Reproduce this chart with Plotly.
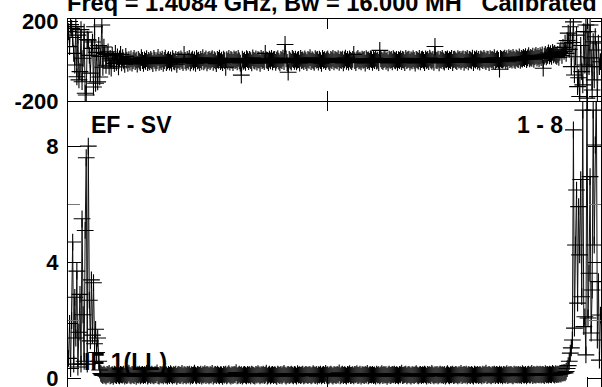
import plotly.graph_objects as go

N_CHAN = 512
channels = list(range(1, N_CHAN + 1))

# Amplitude per channel
amp_left = [0.7, 1.9, 0.35, 2.0, 4.7, 0.5, 2.8, 1.4, 3.7, 0.4, 1.6, 2.9, 0.5, 5.5, 2.2, 0.6,
            5.1, 7.6, 0.5, 8.0, 2.7, 1.3, 3.4, 1.5, 3.3, 1.2, 1.7, 0.9, 1.4, 0.6, 0.3, 0.18]
amp_mid = [
    .14,.11,.16,.12,.09,.15,.13,.18,.10,.12,.14,.08,.16,.13,.11,.17,.12,.10,.15,.13,
    .12,.16,.09,.14,.11,.13,.19,.12,.10,.15,.13,.11,.17,.08,.14,.12,.16,.10,.13,.15,
    .11,.14,.12,.18,.09,.13,.15,.11,.16,.12,.10,.14,.13,.20,.11,.09,.15,.12,.14,.10,
    .16,.12,.13,.09,.15,.11,.17,.13,.10,.14,.12,.16,.08,.13,.15,.11,.12,.18,.10,.14,
    .13,.10,.15,.12,.16,.09,.14,.11,.13,.19,.12,.10,.15,.13,.11,.16,.09,.14,.12,.17,
    .11,.15,.13,.10,.14,.12,.18,.09,.13,.15,.11,.16,.12,.10,.14,.13,.08,.15,.12,.16,
    .10,.13,.17,.12,.09,.14,.11,.15,.13,.21,.10,.12,.16,.11,.14,.09,.13,.15,.12,.10,
    .15,.12,.14,.10,.16,.13,.11,.09,.15,.12,.17,.13,.10,.14,.12,.16,.11,.13,.19,.09,
    .12,.16,.10,.13,.15,.11,.14,.12,.08,.16,.13,.11,.15,.10,.14,.18,.12,.09,.13,.15,
    .11,.13,.16,.12,.10,.15,.13,.09,.17,.12,.14,.11,.13,.16,.10,.12,.15,.13,.11,.14,
    .14,.10,.12,.17,.13,.11,.15,.09,.14,.12,.16,.10,.13,.15,.11,.18,.12,.14,.10,.13,
    .16,.12,.09,.14,.13,.11,.15,.12,.20,.10,.13,.16,.11,.14,.12,.09,.15,.13,.17,.11,
    .12,.14,.10,.15,.13,.17,.11,.12,.16,.09,.14,.13,.11,.15,.12,.18,.10,.13,.14,.12,
    .15,.11,.13,.09,.16,.12,.14,.10,.13,.17,.11,.15,.12,.14,.08,.13,.16,.11,.12,.15,
    .13,.16,.11,.14,.12,.10,.15,.13,.19,.11,.12,.14,.16,.10,.13,.15,.12,.09,.14,.13,
    .11,.14,.17,.12,.10,.13,.15,.11,.14,.12,.16,.13,.09,.15,.12,.14,.11,.18,.13,.10,
    .14,.12,.15,.10,.13,.16,.12,.14,.11,.15,.09,.13,.17,.12,.10,.14,.13,.16,.11,.12,
    .15,.13,.10,.14,.12,.18,.11,.13,.15,.12,.16,.10,.14,.13,.11,.15,.12,.09,.16,.13,
    .12,.15,.11,.14,.13,.10,.16,.12,.14,.19,.11,.13,.15,.12,.10,.14,.13,.16,.11,.15,
    .13,.11,.16,.12,.14,.10,.15,.13,.12,.17,.11,.14,.13,.15,.12,.10,.16,.13,.14,.12,
    .15,.12,.14,.11,.17,.13,.12,.15,.10,.14,.16,.12,.13,.18,.11,.15,.13,.12,.16,.14,
    .13,.16,.12,.15,.14,.11,.17,.13,.15,.12,.16,.14,.13,.18,.15,.12,.17,.14,.16,.15,
    .18,.16,.20,.19,.22]
amp_right = [0.2, 0.25, 0.35, 0.45, 0.6, 0.88, 1.06, 1.33, 8.56, 1.74, 4.6, 6.49, 2.6, 5.92,
             4.26, 6.85, 2.82, 9.24, 1.79, 2.13, 0.82, 10.5, 2.09, 3.63, 6.95, 1.57, 3.05,
             9.24, 4.6, 8.04, 10.2, 1.33, 3.34, 0.64, 2.19]
amplitude = amp_left + amp_mid + amp_right

# Phase (degrees) per channel
ph_left = [150, 74, 185, 166, 120, 40, -19, 175, -78, 132, -94, -52, 160, -103, 15, 147,
           -161, -170, 110, 107, 30, -60, 65, 97, -130, 174, -111, 45, -104, 80, -79, 25,
           183, -30, 72, 40, -20, 35]
ph_mid = [
    48,-25,15,-35,30,5,-12,40,-5,22,-28,12,35,-8,18,2,-15,25,6,-10,
    8,-4,12,-9,3,15,-2,6,-14,10,1,-6,18,4,-11,7,0,13,-7,5,
    -3,9,2,-12,14,5,-8,3,20,-5,7,-1,11,-10,4,16,-6,2,9,-4,
    6,-9,13,1,-3,10,-15,5,8,-2,12,3,-7,35,4,-5,9,1,15,-8,
    3,11,-4,7,-10,14,2,6,-6,9,0,18,-3,5,12,-8,4,10,-1,7,
    13,-5,8,2,-12,9,5,16,-2,6,-7,11,3,-30,8,1,14,-4,10,5,
    -6,12,4,9,-3,15,2,-9,-70,11,0,6,-5,13,8,-2,10,3,-8,17,
    5,1,12,-4,8,6,-10,14,3,9,-2,40,7,4,-6,11,2,15,-3,8,
    10,-5,6,13,1,-8,9,4,16,-1,85,12,-6,-55,10,2,-4,14,8,0,
    11,-3,6,9,-9,15,4,7,-2,12,3,-7,10,5,18,-1,8,2,-5,13,
    6,9,-4,11,3,-10,14,5,8,-2,7,12,1,-6,10,4,15,-3,9,6,
    2,13,-5,8,4,11,-8,7,16,0,9,-4,12,5,-1,10,35,3,-7,8,
    14,2,6,-3,11,5,9,-9,13,4,7,-1,12,8,-5,10,3,15,1,6,
    -6,55,12,4,-2,8,14,0,7,-8,11,5,9,-3,13,6,2,10,-5,8,
    4,12,-1,9,6,-7,15,3,8,11,-4,7,2,13,5,-9,10,6,1,14,
    -3,8,11,5,-6,12,4,9,-2,16,7,1,10,-5,75,6,3,11,-8,9,
    5,14,2,-4,10,7,12,-1,8,4,15,-6,9,11,3,-2,13,6,10,0,
    8,12,-5,9,5,14,-3,10,7,2,16,-7,11,6,13,1,9,-4,12,8,
    3,15,6,-2,11,9,-6,13,7,10,4,18,-1,8,12,5,-40,14,9,6,
    11,16,4,13,-2,18,9,14,6,20,10,3,17,12,8,22,5,15,11,19,
    13,24,9,17,28,12,20,15,26,10,22,30,16,25,14,28,19,32,-35,26,
    35,22,30,42,28,38,25,45,33,40,30]
ph_right = [25, 35, 20, 45, 57, 30, 70, 50, 91, 40, 105, 142, 60, 174, -27, 95, 199, -69,
            23, 132, -128, -83, -178, 80, -52, -119, 150, -19, 183, -186, 149, -27, 183,
            17, -145, 99, -94, 124, 57, -178, 92, -27, -2]
phase = ph_left + ph_mid + ph_right

amp_tickvals = [0, 4, 8]
amp_minor_tickvals = [2, 6]
phase_tickvals = [-200, 200]
phase_ticktext = ["-200", "200"]
chan_tickvals = [250, 500]

title_text = "Freq = 1.4084 GHz, Bw = 16.000 MH\u00a0\u00a0\u00a0Calibrated"
baseline_label = "EF - SV"
range_label = "1 - 8"
if_label = "IF 1(LL)"

W, H = 602, 387
FONT = "Liberation Sans, Arial, sans-serif"

def px_x(p):
    return p / W

def px_y(p):
    return 1 - p / H

line_style = dict(color="#111111", width=1)
marker_style = dict(symbol="cross-thin", size=12, line=dict(width=1.1, color="black"))

fig = go.Figure()
fig.add_trace(go.Scatter(x=channels, y=amplitude, xaxis="x", yaxis="y",
                         mode="lines+markers", line=line_style, marker=marker_style,
                         hoverinfo="skip"))
fig.add_trace(go.Scatter(x=channels, y=phase, xaxis="x2", yaxis="y2",
                         mode="lines+markers", line=line_style, marker=marker_style,
                         hoverinfo="skip"))

xdom = [px_x(68), px_x(601)]
bot_dom = [0, px_y(101)]
top_dom = [px_y(101), px_y(19)]
tickfont = dict(family=FONT, size=22, color="black", weight="bold")

fig.update_layout(
    width=W, height=H,
    margin=dict(l=0, r=0, t=0, b=0, pad=0, autoexpand=False),
    paper_bgcolor="white", plot_bgcolor="white",
    showlegend=False,
    xaxis=dict(domain=xdom, range=[0.5, N_CHAN + 0.5], anchor="y", automargin=False,
               showgrid=False, zeroline=False, showline=False,
               ticks="inside", tickvals=chan_tickvals, ticklen=10, tickcolor="black",
               mirror="ticks", showticklabels=False),
    yaxis=dict(domain=bot_dom, range=[-0.2855, 9.553], anchor="x", automargin=False,
               showgrid=False, zeroline=False, showline=True, linecolor="black",
               linewidth=1, mirror="ticks", ticks="inside", tickvals=amp_tickvals,
               ticklen=13, tickcolor="black", tickfont=tickfont,
               ticklabelstandoff=4, ticklabeloverflow="allow",
               minor=dict(ticks="inside", tickvals=amp_minor_tickvals, ticklen=12,
                          tickcolor="#777777")),
    xaxis2=dict(domain=xdom, range=[0.5, N_CHAN + 0.5], anchor="y2", automargin=False,
                showgrid=False, zeroline=False, showline=True, linecolor="black",
                linewidth=1, mirror="ticks", ticks="inside", tickvals=chan_tickvals,
                ticklen=10, tickcolor="black", showticklabels=False),
    yaxis2=dict(domain=top_dom, range=[-200.5, 213.5], anchor="x2", automargin=False,
                showgrid=False, zeroline=False, showline=True, linecolor="black",
                linewidth=1, mirror="ticks", ticks="inside", tickvals=phase_tickvals,
                ticktext=phase_ticktext,
                ticklen=10, tickcolor="black", tickfont=tickfont,
                ticklabelstandoff=4, ticklabeloverflow="allow"),
)

ann_font = dict(family=FONT, size=23, color="black", weight="bold")
title_font = dict(family=FONT, size=23.6, color="black", weight="bold")
fig.add_annotation(text=title_text, xref="paper", yref="paper", x=px_x(65), y=px_y(18.5),
                   xanchor="left", yanchor="bottom", showarrow=False, font=title_font)
fig.add_annotation(text=baseline_label, xref="paper", yref="paper", x=px_x(88.5), y=px_y(140),
                   xanchor="left", yanchor="bottom", showarrow=False, font=ann_font)
fig.add_annotation(text=range_label, xref="paper", yref="paper", x=px_x(565), y=px_y(139.5),
                   xanchor="right", yanchor="bottom", showarrow=False, font=ann_font)
fig.add_annotation(text=if_label, xref="paper", yref="paper", x=px_x(82), y=px_y(377),
                   xanchor="left", yanchor="bottom", showarrow=False, font=ann_font)

fig.write_html("out.html", config={"displayModeBar": False, "staticPlot": True},
               post_script="document.body.style.margin='0px';")
